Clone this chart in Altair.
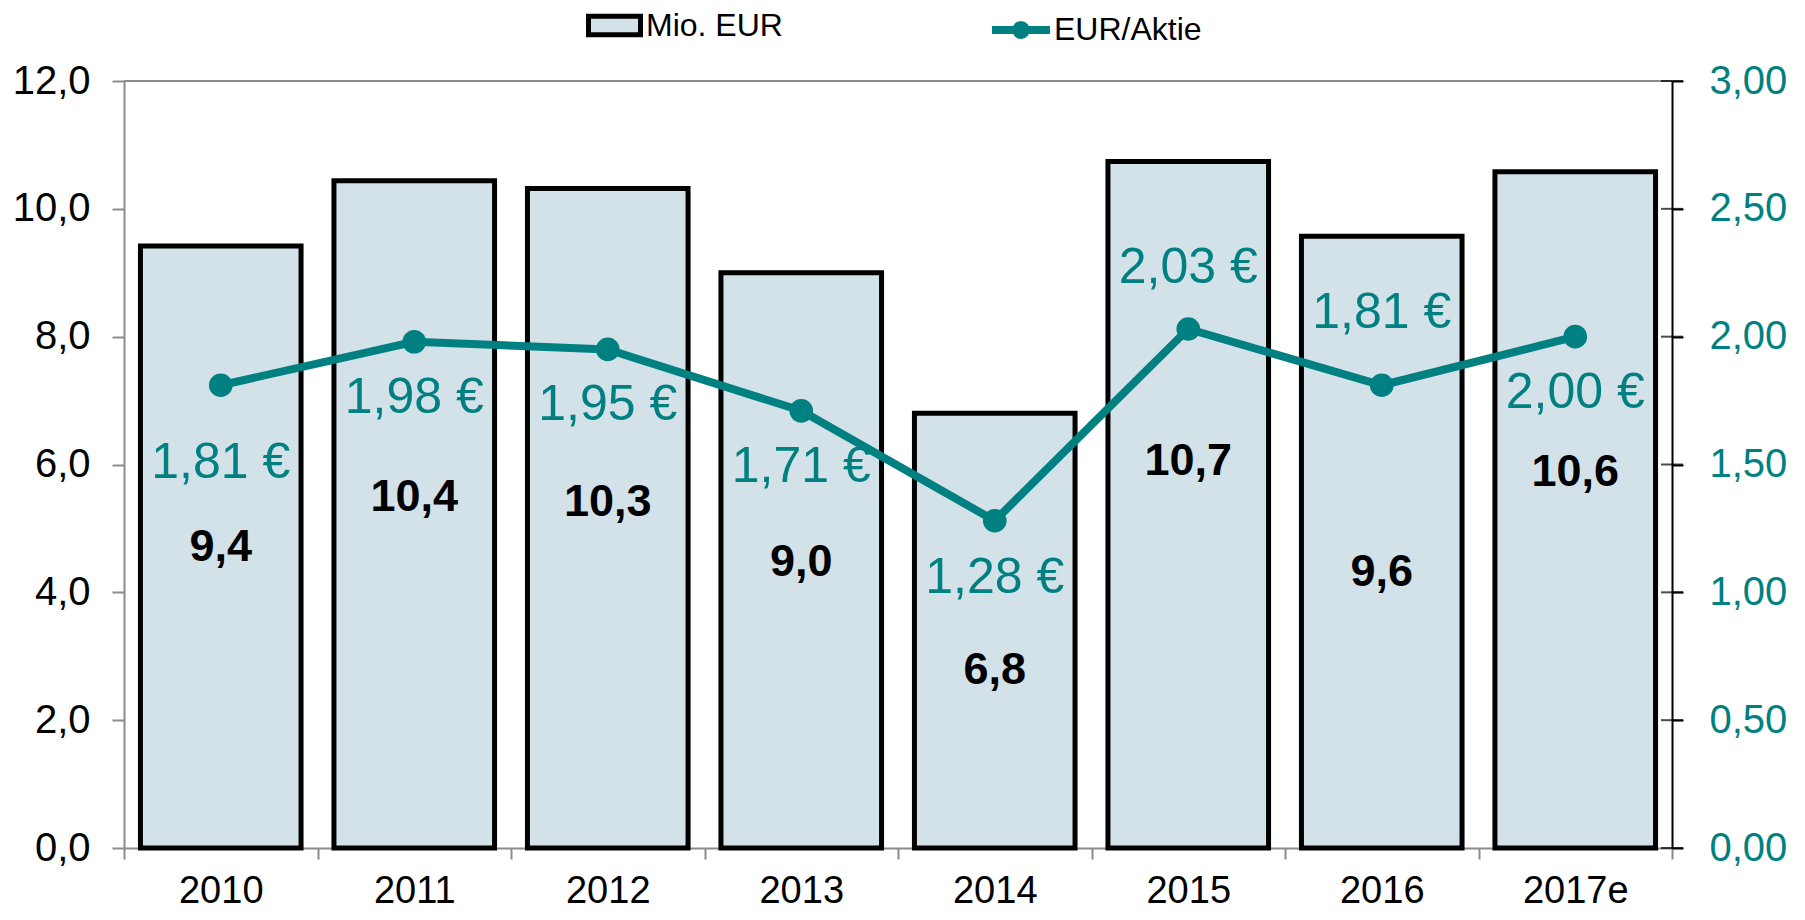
import altair as alt
import pandas as pd

# ---- data ----
years = ["2010", "2011", "2012", "2013", "2014", "2015", "2016", "2017e"]
mio_eur = [9.42, 10.44, 10.32, 9.0, 6.8, 10.74, 9.57, 10.58]
eur_aktie = [1.81, 1.98, 1.95, 1.71, 1.28, 2.03, 1.81, 2.00]
# where the value labels sit (in axis units of their own scale)
mio_label_at = [4.71, 5.49, 5.42, 4.48, 2.79, 6.06, 4.32, 5.88]
eps_label_at = [1.507, 1.759, 1.732, 1.489, 1.057, 2.267, 2.092, 1.781]
left_ticks = [0, 2, 4, 6, 8, 10, 12]
right_ticks = [0, 0.5, 1.0, 1.5, 2.0, 2.5, 3.0]
bar_series = "Mio. EUR"
line_series = "EUR/Aktie"

# ---- styles ----
FONT = "Liberation Sans"
TEAL = "#008080"
BAR_FILL = "#D3E1E8"
GREY = "#8C8C8C"
W, H = 1548, 767

df = pd.DataFrame({
    "year": years,
    "mio": mio_eur,
    "eps": eur_aktie,
    "mio_at": mio_label_at,
    "eps_at": eps_label_at,
    "bar_series": bar_series,
    "line_series": line_series,
})

base = alt.Chart(df).transform_calculate(
    mio_txt="replace(format(datum.mio, '.1f'), '.', ',')",
    eps_txt="replace(format(datum.eps, '.2f'), '.', ',') + ' €'",
)

x_enc = alt.X(
    "year:N", sort=years,
    scale=alt.Scale(paddingInner=0, paddingOuter=0),
    axis=alt.Axis(
        title=None, labelAngle=0, tickBand="extent",
        domainColor=GREY, domainWidth=2, tickColor=GREY, tickWidth=2, tickSize=11,
        labelFontSize=38, labelColor="black", labelPadding=13,
    ),
)

left_scale = alt.Scale(domain=[0, 12], nice=False)
left_axis = alt.Axis(
    title=None, values=left_ticks,
    labelExpr="replace(format(datum.value, '.1f'), '.', ',')",
    domainColor=GREY, domainWidth=2, tickColor=GREY, tickWidth=2, tickSize=12,
    labelFontSize=40, labelColor="black", labelPadding=22, grid=False,
)

right_scale = alt.Scale(domain=[0, 3], nice=False)
right_axis = alt.Axis(
    title=None, orient="right", values=right_ticks,
    labelExpr="replace(format(datum.value, '.2f'), '.', ',')",
    domainColor="black", domainWidth=2, tickColor="black", tickWidth=2, tickSize=11,
    labelFontSize=40, labelColor=TEAL, labelPadding=26, grid=False,
)

bars = base.mark_bar(stroke="black", strokeWidth=5, width=alt.RelativeBandSize(0.83)).encode(
    x=x_enc,
    y=alt.Y("mio:Q", scale=left_scale, axis=left_axis),
    fill=alt.Fill(
        "bar_series:N",
        scale=alt.Scale(domain=[bar_series], range=[BAR_FILL]),
        legend=alt.Legend(
            title=None, orient="none", legendX=462, legendY=-84, padding=0,
            symbolType="M-1,-0.36H1V0.36H-1Z", symbolSize=2704,
            symbolStrokeColor="black", symbolStrokeWidth=5, symbolFillColor=BAR_FILL,
            labelFontSize=32, labelColor="black", labelOffset=3, labelFont=FONT,
        ),
    ),
)

bar_text = base.mark_text(fontSize=45, fontWeight="bold", color="black", baseline="middle").encode(
    x=x_enc,
    y=alt.Y("mio_at:Q", scale=left_scale, axis=left_axis),
    text="mio_txt:N",
)

top_rule = alt.Chart(pd.DataFrame({"v": [left_ticks[-1]]})).mark_rule(color=GREY, strokeWidth=2).encode(
    y=alt.Y("v:Q", scale=left_scale, axis=left_axis)
)

left_layer = alt.layer(bars, bar_text, top_rule)

line = base.mark_line(strokeWidth=8).encode(
    x=x_enc,
    y=alt.Y("eps:Q", scale=right_scale, axis=right_axis),
    stroke=alt.Stroke(
        "line_series:N",
        scale=alt.Scale(domain=[line_series], range=[TEAL]),
        legend=alt.Legend(
            title=None, orient="none", legendX=864, legendY=-84, padding=0,
            symbolType="M-1,0H1M-0.17,0A0.17,0.17,0,1,1,0.17,0A0.17,0.17,0,1,1,-0.17,0Z",
            symbolSize=3364, symbolStrokeColor=TEAL, symbolStrokeWidth=8, symbolFillColor=TEAL,
            labelFontSize=32, labelColor="black", labelOffset=0, labelFont=FONT,
        ),
    ),
)

points = base.mark_circle(size=560, color=TEAL, opacity=1).encode(
    x=x_enc,
    y=alt.Y("eps:Q", scale=right_scale, axis=right_axis),
)

eps_text = base.mark_text(fontSize=50, color=TEAL, baseline="middle").encode(
    x=x_enc,
    y=alt.Y("eps_at:Q", scale=right_scale, axis=right_axis),
    text="eps_txt:N",
)

inner_ticks = alt.Chart(pd.DataFrame({"t": right_ticks})).mark_tick(
    orient="horizontal", size=22, thickness=2, color="black"
).encode(
    y=alt.Y("t:Q", scale=right_scale, axis=right_axis),
    x=alt.value(W),
)

right_layer = alt.layer(line, points, eps_text, inner_ticks)

chart = alt.layer(left_layer, right_layer).resolve_scale(
    y="independent", fill="independent", stroke="independent"
).properties(
    width=W, height=H,
    padding={"left": 116, "top": 73, "right": 120, "bottom": 64},
    autosize=alt.AutoSizeParams(type="none"),
).configure(
    font=FONT
).configure_view(stroke=None)

chart.save("out.html", embed_options={"renderer": "svg", "actions": False})
